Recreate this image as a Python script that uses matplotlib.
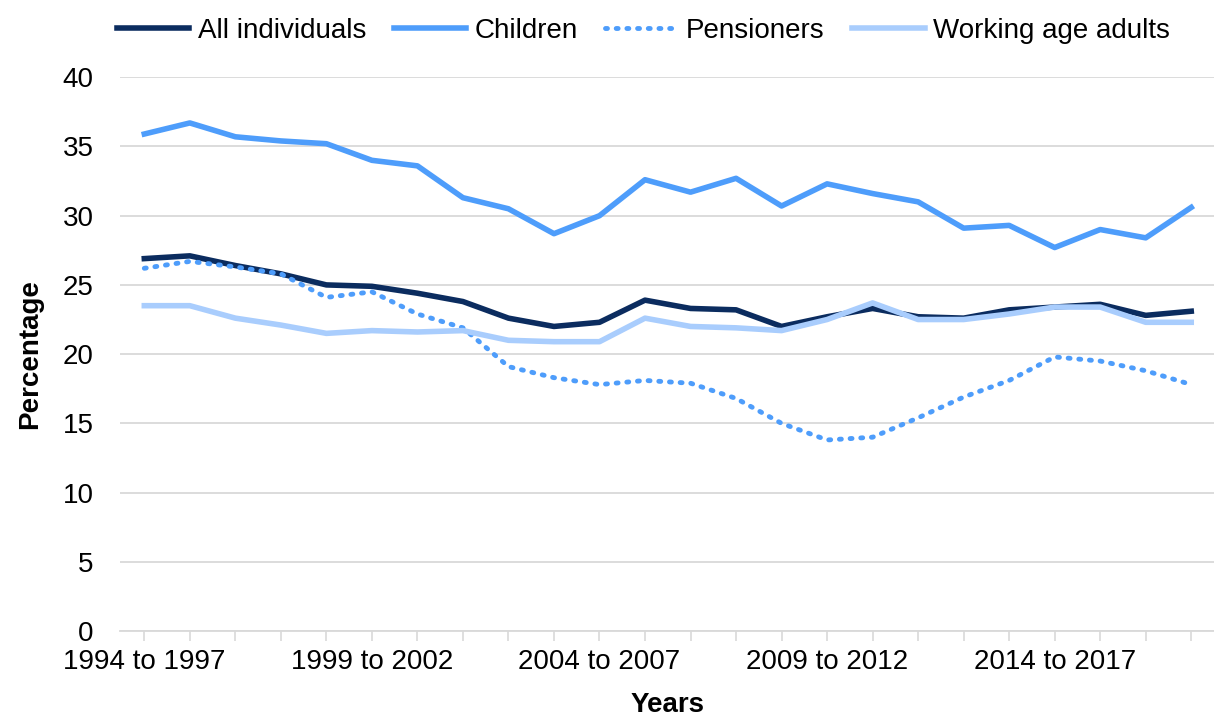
import matplotlib

matplotlib.use("Agg")
import matplotlib.pyplot as plt  # noqa: E402

plt.rcParams["font.family"] = ["Liberation Sans", "DejaVu Sans"]

years = [f"{y} to {y + 3}" for y in range(1994, 2018)]
all_individuals = [26.9, 27.1, 26.4, 25.8, 25.0, 24.9, 24.4, 23.8, 22.6, 22.0, 22.3, 23.9,
                   23.3, 23.2, 22.0, 22.7, 23.3, 22.7, 22.6, 23.2, 23.4, 23.6, 22.8, 23.1]
children = [35.9, 36.7, 35.7, 35.4, 35.2, 34.0, 33.6, 31.3, 30.5, 28.7, 30.0, 32.6,
            31.7, 32.7, 30.7, 32.3, 31.6, 31.0, 29.1, 29.3, 27.7, 29.0, 28.4, 30.6]
pensioners = [26.2, 26.7, 26.3, 25.8, 24.1, 24.5, 22.9, 21.9, 19.1, 18.3, 17.8, 18.1,
              17.9, 16.8, 15.0, 13.8, 14.0, 15.4, 16.9, 18.1, 19.8, 19.5, 18.8, 17.8]
working_age = [23.5, 23.5, 22.6, 22.1, 21.5, 21.7, 21.6, 21.7, 21.0, 20.9, 20.9, 22.6,
               22.0, 21.9, 21.7, 22.5, 23.7, 22.5, 22.5, 22.9, 23.4, 23.4, 22.3, 22.3]

navy, blue, light = "#0b2c5f", "#4e9dfb", "#a9cdfd"

fig = plt.figure(figsize=(12.14, 7.22), dpi=100)
ax = fig.add_axes([0.099, 0.126, 0.901, 0.767])

x = range(len(years))
ax.plot(x, all_individuals, color=navy, lw=4, label="All individuals")
ax.plot(x, children, color=blue, lw=4, label="Children")
ax.plot(x, pensioners, color=blue, lw=3.5, ls=(0, (0.4, 1.8)), dash_capstyle="round",
        label="Pensioners")
ax.plot(x, working_age, color=light, lw=4, label="Working age adults")

ax.set_ylim(0, 40)
ax.set_xlim(-0.53, 23.5)
ax.set_yticks(range(0, 41, 5))
ax.set_xticks(list(x))
ax.set_xticklabels([lab if i % 5 == 0 else "" for i, lab in enumerate(years)])
ax.tick_params(axis="y", length=0, labelsize=20, pad=19)
ax.tick_params(axis="x", length=7, width=1.2, color="#d9d9d9", labelsize=20, pad=6,
               direction="out")
ax.grid(axis="y", color="#d9d9d9", lw=1.3)
ax.set_axisbelow(True)
for s in ["top", "right", "left"]:
    ax.spines[s].set_visible(False)
ax.spines["bottom"].set_color("#d9d9d9")
ax.spines["bottom"].set_linewidth(1.3)

ax.set_ylabel("Percentage", fontsize=20, weight="bold", labelpad=14)
ax.set_xlabel("Years", fontsize=20, weight="bold", labelpad=12)

fig.legend(loc="upper center", bbox_to_anchor=(0.53, 1.01), ncol=4, frameon=False,
           fontsize=20, handlelength=2.6, handletextpad=0.3, columnspacing=1.0)

fig.savefig("out.png", dpi=100)
